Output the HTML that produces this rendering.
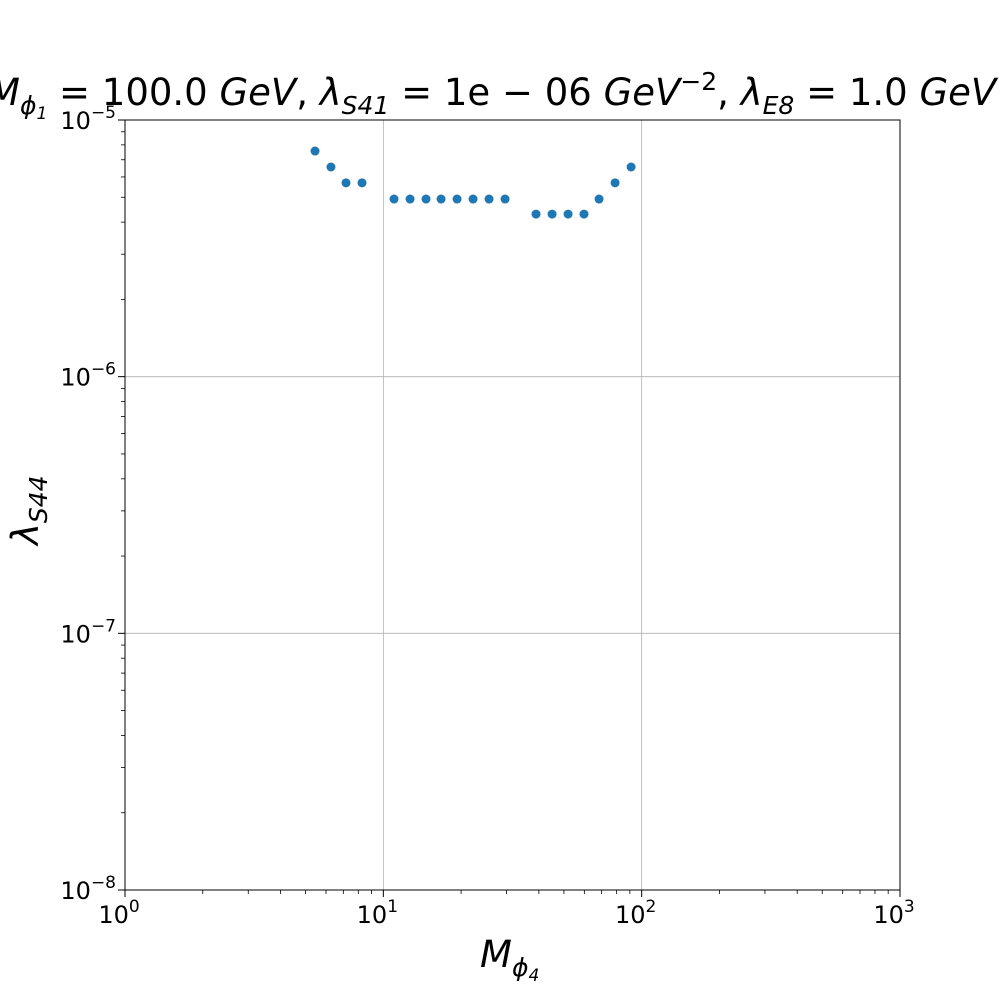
<!DOCTYPE html>
<html><head><meta charset="utf-8"><style>
html,body{margin:0;padding:0;background:#fff;width:1000px;height:1000px;overflow:hidden}
svg text{font-family:"DejaVu Sans","Liberation Sans",sans-serif;fill:#000}
</style></head><body>
<svg id="chart" width="1000" height="1000" xmlns="http://www.w3.org/2000/svg">
<rect width="1000" height="1000" fill="#fff"/>
<g id="grid"></g>
<g id="ticks"></g>
<g id="pts"></g>
<rect x="125" y="120" width="775" height="770" fill="none" stroke="#000" stroke-width="1"/>
<text x="-12" y="105" font-size="37" font-style="italic">M<tspan font-size="25" dy="9">ϕ<tspan font-size="17" dy="5">1</tspan></tspan><tspan dy="-14" font-style="normal"> = 100.0 </tspan>GeV<tspan font-style="normal">, </tspan>λ<tspan font-size="25" dy="9">S41</tspan><tspan dy="-9" font-style="normal"> = 1e − 06 </tspan>GeV<tspan font-size="25" dy="-15" font-style="normal">−2</tspan><tspan dy="15" font-style="normal">, </tspan>λ<tspan font-size="25" dy="9">E8</tspan><tspan dy="-9" font-style="normal"> = 1.0 </tspan>GeV</text>
<text x="480" y="967" font-size="37" font-style="italic">M<tspan font-size="25" dy="9">ϕ<tspan font-size="17" dy="5">4</tspan></tspan></text>
<text transform="translate(38,545) rotate(-90)" font-size="37" font-style="italic">λ<tspan font-size="25" dy="9">S44</tspan></text>
</svg>
<script>
const xs=[5.44,6.27,7.17,8.27,11.0,12.69,14.63,16.73,19.29,22.25,25.66,29.59,39.0,45.0,51.9,59.8,68.4,78.9,91.0];
const ys=[7.57e-6,6.56e-6,5.69e-6,5.69e-6,4.92e-6,4.92e-6,4.92e-6,4.92e-6,4.92e-6,4.92e-6,4.92e-6,4.92e-6,4.30e-6,4.30e-6,4.30e-6,4.30e-6,4.92e-6,5.69e-6,6.56e-6];
const xTickExps=[0,1,2,3];
const yTickExps=[-5,-6,-7,-8];
const NS="http://www.w3.org/2000/svg";
const L=125,R=900,T=120,B=890;
const X=v=>L+(Math.log10(v)-0)/3*(R-L);
const Y=v=>T+(-5-Math.log10(v))/3*(B-T);
const grid=document.getElementById('grid'),ticks=document.getElementById('ticks'),pts=document.getElementById('pts');
function mk(t,a,p){const e=document.createElementNS(NS,t);for(const k in a)e.setAttribute(k,a[k]);p.appendChild(e);return e;}
xTickExps.forEach(e=>{const x=X(Math.pow(10,e));
 if(e>0&&e<3){const g=mk('line',{x1:x,x2:x,y1:T,y2:B,stroke:'#b0b0b0','stroke-width':0.8},grid);
 
 }
 mk('line',{x1:x,x2:x,y1:B,y2:B+7,stroke:'#000','stroke-width':1},ticks);
 const t=mk('text',{x:x-6,y:B+33,'font-size':24,'text-anchor':'middle'},ticks);
 
 
 t.innerHTML='10<tspan font-size="17" dy="-11">'+e+'</tspan>';
 if(e<3)for(let m=2;m<10;m++){const xm=X(m*Math.pow(10,e));mk('line',{x1:xm,x2:xm,y1:B,y2:B+4,stroke:'#000','stroke-width':0.8},ticks);}
});
yTickExps.forEach(e=>{const y=Y(Math.pow(10,e));
 if(e<-5&&e>-8){const g=mk('line',{x1:L,x2:R,y1:y,y2:y,stroke:'#b0b0b0','stroke-width':0.8},grid);
 
 }
 mk('line',{x1:L-7,x2:L,y1:y,y2:y,stroke:'#000','stroke-width':1},ticks);
 const t=mk('text',{x:L-9,y:y+9,'font-size':24,'text-anchor':'end'},ticks);
 
 
 t.innerHTML='10<tspan font-size="17" dy="-11">−'+(-e)+'</tspan>';
 if(e>-8)for(let m=2;m<10;m++){const ym=Y(m*Math.pow(10,e-1));mk('line',{x1:L-4,x2:L,y1:ym,y2:ym,stroke:'#000','stroke-width':0.8},ticks);}
});
xs.forEach((v,i)=>{const c=mk('circle',{cx:X(v),cy:Y(ys[i]),r:4.5,fill:'#1f77b4'},pts);
 
 });
</script>
</body></html>
